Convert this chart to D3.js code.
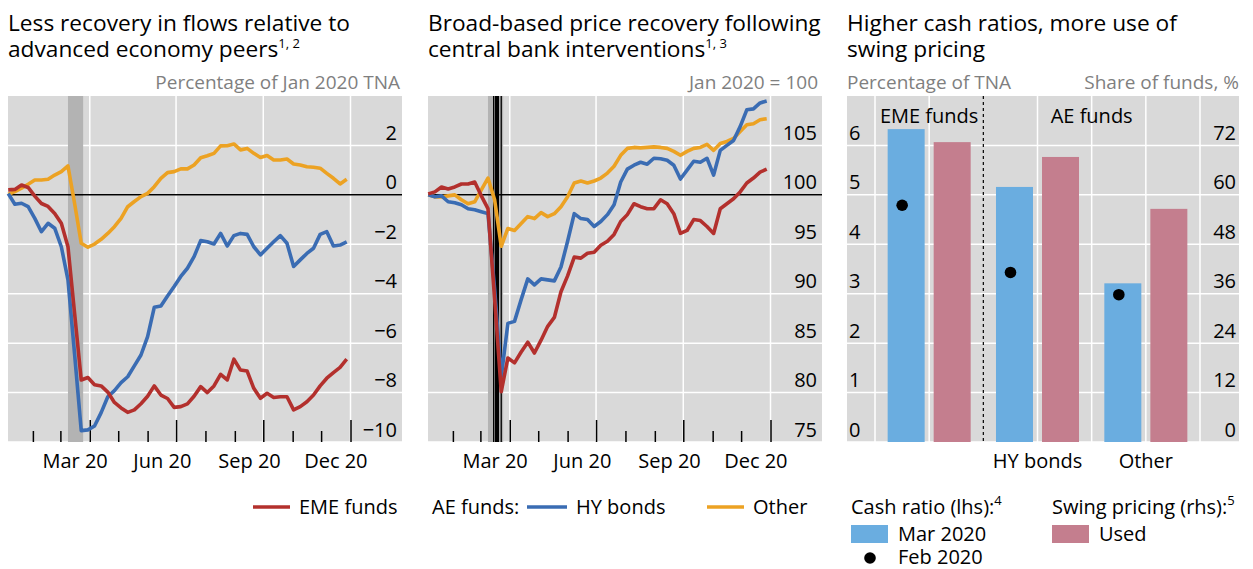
<!DOCTYPE html>
<html>
<head>
<meta charset="utf-8">
<script src="https://cdn.jsdelivr.net/npm/d3@7"></script>
<style>
  body { margin: 0; background: #fff; }
  text { font-family: "Open Sans", sans-serif; fill: #000; }
</style>
</head>
<body>
<svg id="chart" width="1253" height="569"></svg>
<script>
// weekly observations (Mondays), Jan 2020 - Dec 2020
const weeks = d3.utcMonday.range(new Date(Date.UTC(2020, 0, 6)), new Date(Date.UTC(2020, 11, 29)));

// left panel: cumulative flows, % of Jan 2020 TNA
const flowsEME = [0.2, 0.22, 0.4, 0.3, -0.05, -0.35, -0.47, -0.75, -1.15, -2.1,
  -4.8, -7.49, -7.39, -7.68, -7.73, -7.98, -8.4, -8.62, -8.8, -8.7,
  -8.45, -8.15, -7.73, -8.1, -8.24, -8.6, -8.57, -8.46, -8.15, -7.76,
  -8.0, -7.73, -7.26, -7.49, -6.65, -7.09, -7.13, -7.83, -8.23, -8.03,
  -8.2, -8.17, -8.17, -8.7, -8.57, -8.37, -8.1, -7.73, -7.42, -7.19,
  -6.98, -6.65];
const flowsHY = [0.05, -0.38, -0.34, -0.48, -0.95, -1.49, -1.15, -1.35, -2.1, -3.44,
  -6.45, -9.54, -9.51, -9.35, -8.81, -8.17, -7.92, -7.6, -7.36, -6.92,
  -6.48, -5.74, -4.55, -4.5, -4.09, -3.71, -3.3, -2.97, -2.5, -1.85,
  -1.9, -1.99, -1.56, -2.07, -1.65, -1.56, -1.6, -2.1, -2.43, -2.16,
  -1.9, -1.65, -1.96, -2.9, -2.63, -2.37, -2.16, -1.6, -1.49, -2.07,
  -2.03, -1.9];
const flowsOther = [0.02, 0.13, 0.27, 0.43, 0.6, 0.6, 0.63, 0.8, 0.94, 1.17,
  -0.35, -1.96, -2.12, -1.99, -1.8, -1.56, -1.29, -0.95, -0.48, -0.27,
  -0.07, 0.06, 0.33, 0.67, 0.9, 0.94, 1.05, 1.05, 1.21, 1.5,
  1.58, 1.68, 1.98, 1.99, 2.06, 1.82, 1.88, 1.68, 1.51, 1.59,
  1.41, 1.41, 1.45, 1.25, 1.21, 1.14, 1.12, 1.08, 0.87, 0.67,
  0.44, 0.63];

// centre panel: prices, Jan 2020 = 100
const priceEME = [100.1, 100.3, 100.8, 100.6, 100.8, 101.1, 101.1, 101.3, 99.9, 98.6,
  89.5, 80.1, 83.5, 83.0, 84.1, 85.1, 84.0, 85.3, 86.7, 87.6,
  90.2, 91.8, 93.7, 93.6, 94.1, 94.2, 94.9, 95.3, 96.0, 97.3,
  98.0, 99.1, 98.8, 98.6, 98.6, 99.5, 99.1, 98.1, 96.1, 96.4,
  97.5, 97.4, 96.8, 96.1, 98.6, 99.1, 99.6, 100.3, 101.2, 101.7,
  102.3, 102.6];
const priceHY = [100.0, 99.8, 99.9, 99.3, 99.2, 99.0, 98.6, 98.5, 98.3, 98.1,
  90.5, 81.6, 87.0, 87.2, 89.4, 91.5, 90.9, 91.5, 91.4, 91.3,
  92.7, 95.3, 98.1, 97.6, 97.5, 96.8, 97.3, 98.0, 99.0, 101.3,
  102.6, 103.0, 103.3, 103.1, 103.7, 103.65, 103.5, 103.0, 101.6, 102.5,
  103.4, 103.3, 103.7, 102.0, 104.5, 105.0, 105.5, 106.9, 108.6, 108.7,
  109.3, 109.5];
const priceOther = [100.0, 99.8, 99.8, 99.9, 100.0, 99.5, 99.1, 99.3, 100.5, 101.7,
  99.5, 94.8, 96.6, 96.4, 97.1, 97.8, 97.6, 98.2, 97.8, 98.1,
  98.8, 99.8, 101.2, 101.4, 101.2, 101.4, 101.7, 102.2, 102.9, 104.0,
  104.7, 104.8, 104.75, 104.8, 104.85, 104.8, 104.7, 104.4, 104.0, 104.4,
  104.7, 104.8, 105.1, 104.5, 105.2, 105.4, 105.7, 106.4, 107.1, 107.2,
  107.6, 107.7];

const flowTicks  = [-10, -8, -6, -4, -2, 0, 2];
const priceTicks = [75, 80, 85, 90, 95, 100, 105];
const quarterLabels = [new Date(Date.UTC(2020, 2, 16)), new Date(Date.UTC(2020, 5, 16)),
                       new Date(Date.UTC(2020, 8, 16)), new Date(Date.UTC(2020, 11, 16))];

const stressWindow = [new Date(Date.UTC(2020, 2, 9)), new Date(Date.UTC(2020, 2, 25))];
const cbInterventions = [15, 17, 18, 19, 20, 23].map(d => new Date(Date.UTC(2020, 2, d)));

// right panel
const fundGroups  = ["EME funds", "HY bonds", "Other"];
const groupLabels = ["", "HY bonds", "Other"];
const cashMar2020 = [6.33, 5.16, 3.21];
const cashFeb2020 = [4.79, 3.43, 2.98];
const swingUsed   = [72.8, 69.2, 56.6];
const lhsTicks = [0, 1, 2, 3, 4, 5, 6];
const rhsTicks = [0, 12, 24, 36, 48, 60, 72];

const colors = {
  eme: "#b3302d", hy: "#3a6cb3", other: "#eca223",
  cash: "#6aade0", swing: "#c47e8e",
  bg: "#d9d9d9", band: "#b3b3b3", unit: "#7f7f7f"
};

const plotTop = 96, plotBottom = 442;
const svg = d3.select("#chart");

function title(x, line1, line2, sup) {
  svg.append("text").attr("x", x).attr("y", 31).attr("font-size", 22.7).text(line1);
  const t2 = svg.append("text").attr("x", x).attr("y", 57).attr("font-size", 22.7);
  t2.append("tspan").text(line2);
  if (sup) t2.append("tspan").attr("font-size", 13).attr("dy", -9).text(sup);
}

function unitLabel(x, anchor, txt) {
  svg.append("text").attr("x", x).attr("y", 89).attr("font-size", 19)
    .attr("text-anchor", anchor).style("fill", colors.unit).text(txt);
}

function linePanel(left, right, yDomain, yTicks, ref, series, markers) {
  const g = svg.append("g");
  const x = d3.scaleUtc()
    .domain([new Date(Date.UTC(2020, 0, 1)), new Date(Date.UTC(2021, 0, 1))])
    .range([left - 4.5, left + 342.5]);
  const y = d3.scaleLinear().domain(yDomain).range([plotBottom, plotTop]);

  g.append("rect")
    .attr("x", left).attr("y", plotTop)
    .attr("width", right - left).attr("height", plotBottom - plotTop)
    .attr("fill", colors.bg);

  // gridlines
  g.selectAll("line.hgrid").data(yTicks).join("line")
    .attr("x1", left).attr("x2", right)
    .attr("y1", d => y(d)).attr("y2", d => y(d))
    .attr("stroke", "#fff").attr("stroke-width", 1.5);
  const quarters = d3.utcMonth.every(3).range(new Date(Date.UTC(2020, 3, 1)), new Date(Date.UTC(2021, 0, 2)));
  g.selectAll("line.vgrid").data(quarters).join("line")
    .attr("x1", d => x(d)).attr("x2", d => x(d))
    .attr("y1", plotTop).attr("y2", plotBottom)
    .attr("stroke", "#fff").attr("stroke-width", 1.5);

  // stress period
  g.append("rect")
    .attr("x", x(stressWindow[0])).attr("y", plotTop)
    .attr("width", x(stressWindow[1]) - x(stressWindow[0]))
    .attr("height", plotBottom - plotTop)
    .attr("fill", colors.band);

  if (markers) {
    g.selectAll("line.cb").data(markers).join("line")
      .attr("x1", d => x(d)).attr("x2", d => x(d))
      .attr("y1", plotTop).attr("y2", plotBottom)
      .attr("stroke", "#000").attr("stroke-width", 1.3);
  }

  // reference line
  g.append("line")
    .attr("x1", left).attr("x2", right)
    .attr("y1", y(ref)).attr("y2", y(ref))
    .attr("stroke", "#000").attr("stroke-width", 1.5);

  // month ticks (inside)
  const months = d3.utcMonth.range(new Date(Date.UTC(2020, 1, 1)), new Date(Date.UTC(2021, 0, 2)));
  g.append("g")
    .attr("transform", `translate(0,${plotBottom})`)
    .call(d3.axisBottom(x).tickValues(months.filter(d => d.getUTCMonth() % 3 !== 0)).tickSize(-11).tickFormat(""))
    .call(a => a.select(".domain").remove())
    .call(a => a.selectAll("line").attr("stroke", "#000").attr("stroke-width", 1.5));
  g.append("g")
    .attr("transform", `translate(0,${plotBottom})`)
    .call(d3.axisBottom(x).tickValues(quarters).tickSize(-22).tickFormat(""))
    .call(a => a.select(".domain").remove())
    .call(a => a.selectAll("line").attr("stroke", "#000").attr("stroke-width", 1.5));

  // quarter labels
  g.append("g")
    .attr("transform", `translate(0,${plotBottom})`)
    .call(d3.axisBottom(x).tickValues(quarterLabels).tickSize(0).tickFormat(d3.utcFormat("%b %y")))
    .call(a => a.select(".domain").remove())
    .call(a => a.attr("font-family", null).attr("font-size", 20))
    .call(a => a.selectAll("text").attr("dy", null).attr("y", 26).style("fill", "#000"));

  // series
  const line = d3.line().x((d, i) => x(weeks[i])).y(d => y(d));
  series.forEach(s => {
    g.append("path").datum(s.values)
      .attr("d", line)
      .attr("fill", "none")
      .attr("stroke", s.color)
      .attr("stroke-width", 3.6)
      .attr("stroke-linejoin", "round");
  });

  // y labels inside plot, right aligned, above gridlines
  g.append("g")
    .attr("transform", `translate(${right - 5},0)`)
    .call(d3.axisLeft(y).tickValues(yTicks).tickSize(0).tickPadding(0)
      .tickFormat(d => d < 0 ? "\u2212" + Math.abs(d) : d))
    .call(a => a.select(".domain").remove())
    .call(a => a.attr("font-family", null).attr("font-size", 20))
    .call(a => a.selectAll("text").attr("dy", null).attr("y", -6).style("fill", "#000"));
}

// Panel 1
title(8, "Less recovery in flows relative to", "advanced economy peers", "1, 2");
unitLabel(400, "end", "Percentage of Jan 2020 TNA");
linePanel(8, 402, [-10, 4], flowTicks, 0, [
  { values: flowsOther, color: colors.other },
  { values: flowsHY,    color: colors.hy },
  { values: flowsEME,   color: colors.eme }
]);

// Panel 2
title(428, "Broad-based price recovery following", "central bank interventions", "1, 3");
unitLabel(818, "end", "Jan 2020 = 100");
linePanel(428, 822, [75, 110], priceTicks, 100, [
  { values: priceOther, color: colors.other },
  { values: priceHY,    color: colors.hy },
  { values: priceEME,   color: colors.eme }
], cbInterventions);

// Panel 3
title(847, "Higher cash ratios, more use of", "swing pricing", null);
unitLabel(847, "start", "Percentage of TNA");
unitLabel(1239, "end", "Share of funds, %");

(function () {
  const left = 847, right = 1239;
  const g = svg.append("g");
  const x = d3.scaleBand().domain(fundGroups).range([875, 1200]);
  const xs = d3.scaleBand().domain(["cash", "swing"]).range([0, x.bandwidth()])
    .paddingInner(0.196).paddingOuter(0.275);
  const yL = d3.scaleLinear().domain([0, 7]).range([plotBottom, plotTop]);
  const yR = d3.scaleLinear().domain([0, 84]).range([plotBottom, plotTop]);

  g.append("rect")
    .attr("x", left).attr("y", plotTop)
    .attr("width", right - left).attr("height", plotBottom - plotTop)
    .attr("fill", colors.bg);

  g.selectAll("line.hgrid").data(lhsTicks).join("line")
    .attr("x1", left).attr("x2", right)
    .attr("y1", d => yL(d)).attr("y2", d => yL(d))
    .attr("stroke", "#fff").attr("stroke-width", 1.5);

  const vgrid = [x("EME funds"), x("EME funds") + x.bandwidth() / 2,
                 x("HY bonds") + x.bandwidth() / 2, x("Other"),
                 x("Other") + x.bandwidth() / 2, x("Other") + x.bandwidth()];
  g.selectAll("line.vgrid").data(vgrid).join("line")
    .attr("x1", d => d).attr("x2", d => d)
    .attr("y1", plotTop).attr("y2", plotBottom)
    .attr("stroke", "#fff").attr("stroke-width", 1.5);

  g.append("line")
    .attr("x1", x("HY bonds")).attr("x2", x("HY bonds"))
    .attr("y1", plotTop).attr("y2", plotBottom)
    .attr("stroke", "#000").attr("stroke-width", 1.2)
    .attr("stroke-dasharray", "3,3");

  g.selectAll("rect.cash").data(cashMar2020).join("rect")
    .attr("x", (d, i) => x(fundGroups[i]) + xs("cash"))
    .attr("y", d => yL(d))
    .attr("width", xs.bandwidth())
    .attr("height", d => yL(0) - yL(d))
    .attr("fill", colors.cash);

  g.selectAll("rect.swing").data(swingUsed).join("rect")
    .attr("x", (d, i) => x(fundGroups[i]) + xs("swing"))
    .attr("y", d => yR(d))
    .attr("width", xs.bandwidth())
    .attr("height", d => yR(0) - yR(d))
    .attr("fill", colors.swing);

  g.selectAll("circle.feb").data(cashFeb2020).join("circle")
    .attr("cx", (d, i) => x(fundGroups[i]) + xs("cash") + xs.bandwidth() / 2 - 4)
    .attr("cy", d => yL(d))
    .attr("r", 5.8)
    .attr("fill", "#000");

  // group headers
  g.append("text").attr("x", x("EME funds") + x.bandwidth() / 2).attr("y", 123)
    .attr("font-size", 20).attr("text-anchor", "middle").text("EME funds");
  g.append("text").attr("x", x("Other")).attr("y", 123)
    .attr("font-size", 20).attr("text-anchor", "middle").text("AE funds");

  // category axis
  g.append("g")
    .attr("transform", `translate(0,${plotBottom})`)
    .call(d3.axisBottom(x).tickSize(0).tickFormat((d, i) => groupLabels[i]))
    .call(a => a.select(".domain").remove())
    .call(a => a.attr("font-family", null).attr("font-size", 20))
    .call(a => a.selectAll("text").attr("dy", null).attr("y", 26).style("fill", "#000"));

  // lhs / rhs labels
  g.append("g")
    .attr("transform", `translate(${left + 2},0)`)
    .call(d3.axisRight(yL).tickValues(lhsTicks).tickSize(0).tickPadding(0).tickFormat(d3.format("d")))
    .call(a => a.select(".domain").remove())
    .call(a => a.attr("font-family", null).attr("font-size", 20))
    .call(a => a.selectAll("text").attr("dy", null).attr("y", -6).style("fill", "#000"));
  g.append("g")
    .attr("transform", `translate(${right - 3},0)`)
    .call(d3.axisLeft(yR).tickValues(rhsTicks).tickSize(0).tickPadding(0).tickFormat(d3.format("d")))
    .call(a => a.select(".domain").remove())
    .call(a => a.attr("font-family", null).attr("font-size", 20))
    .call(a => a.selectAll("text").attr("dy", null).attr("y", -6).style("fill", "#000"));
})();

// Legends
const legend = svg.append("g").attr("font-size", 20);
function legLine(x1, x2, color, label) {
  legend.append("line").attr("x1", x1).attr("x2", x2).attr("y1", 507).attr("y2", 507)
    .attr("stroke", color).attr("stroke-width", 3.6);
  legend.append("text").attr("x", x2 + 9).attr("y", 514).text(label);
}
legLine(253, 290, colors.eme, "EME funds");
legend.append("text").attr("x", 432).attr("y", 514).text("AE funds:");
legLine(527, 567, colors.hy, "HY bonds");
legLine(707, 744, colors.other, "Other");

const cr = legend.append("text").attr("x", 851).attr("y", 514);
cr.append("tspan").text("Cash ratio (lhs):");
cr.append("tspan").attr("font-size", 13).attr("dy", -9).text("4");
const sp = legend.append("text").attr("x", 1052).attr("y", 514);
sp.append("tspan").text("Swing pricing (rhs):");
sp.append("tspan").attr("font-size", 13).attr("dy", -9).text("5");

legend.append("rect").attr("x", 851).attr("y", 525).attr("width", 37).attr("height", 18).attr("fill", colors.cash);
legend.append("text").attr("x", 898).attr("y", 541).text("Mar 2020");
legend.append("rect").attr("x", 1052).attr("y", 525).attr("width", 37).attr("height", 18).attr("fill", colors.swing);
legend.append("text").attr("x", 1099).attr("y", 541).text("Used");
legend.append("circle").attr("cx", 870).attr("cy", 558).attr("r", 5.8).attr("fill", "#000");
legend.append("text").attr("x", 898).attr("y", 564).text("Feb 2020");
</script>
</body>
</html>
